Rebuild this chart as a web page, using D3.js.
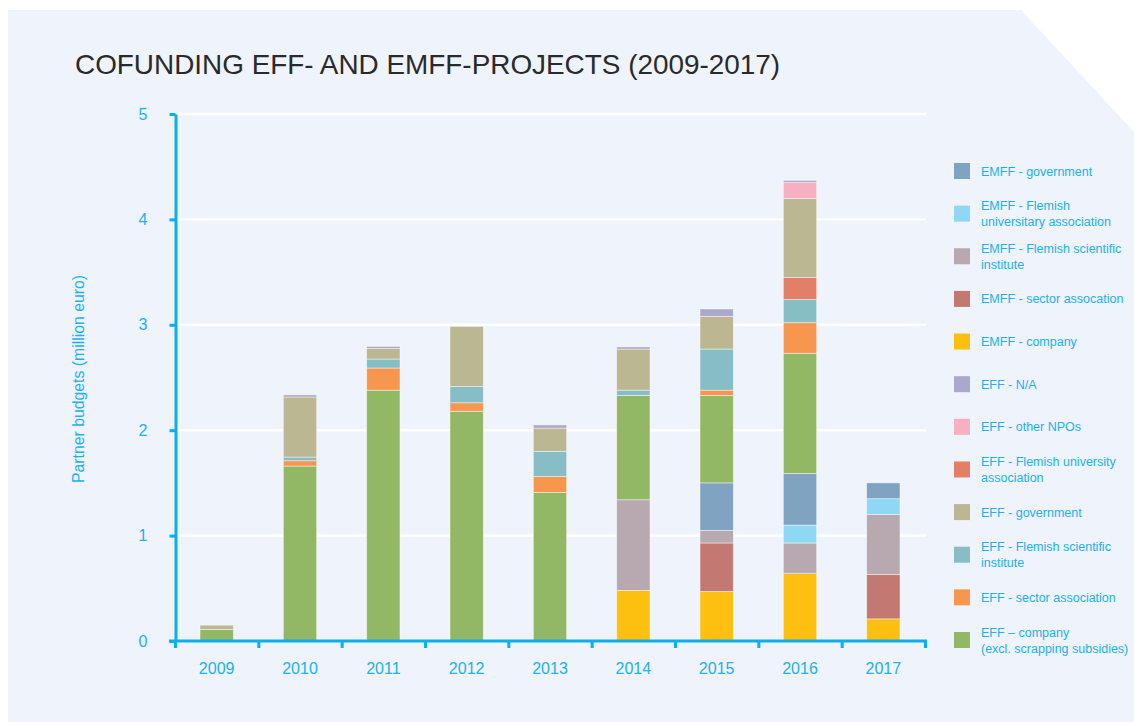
<!DOCTYPE html>
<html>
<head>
<meta charset="utf-8">
<script src="https://cdn.jsdelivr.net/npm/d3@7"></script>
<style>
  body { margin: 0; background: #fff; }
  svg { display: block; font-family: "Liberation Sans", Arial, sans-serif; }
</style>
</head>
<body>
<div id="root"></div>
<script>
// Categories.
const years = ['2009', '2010', '2011', '2012', '2013', '2014', '2015', '2016', '2017'];

// Series values (million euro), stacked bottom to top in this order.
const emffCompany      = [0,    0,     0,     0,     0,     0.48, 0.47, 0.64, 0.21];
const emffSector       = [0,    0,     0,     0,     0,     0,    0.46, 0,    0.42];
const emffScience      = [0,    0,     0,     0,     0,     0.86, 0.12, 0.29, 0.57];
const emffUniversity   = [0,    0,     0,     0,     0,     0,    0,    0.17, 0.15];
const emffGovernment   = [0,    0,     0,     0,     0,     0,    0.45, 0.49, 0.15];
const effCompany       = [0.11, 1.66,  2.38,  2.18,  1.41,  0.99, 0.83, 1.14, 0];
const effSector        = [0,    0.05,  0.21,  0.08,  0.15,  0,    0.05, 0.29, 0];
const effScience       = [0,    0.035, 0.085, 0.155, 0.24,  0.05, 0.39, 0.22, 0];
const effUniversity    = [0,    0,     0,     0,     0,     0,    0,    0.21, 0];
const effGovernment    = [0.04, 0.57,  0.10,  0.57,  0.22,  0.39, 0.31, 0.75, 0];
const effOtherNPO      = [0,    0,     0,     0,     0,     0,    0,    0.15, 0];
const effNA            = [0,    0.02,  0.02,  0,     0.03,  0.02, 0.07, 0.02, 0];

const seriesKeys = ['emffCompany', 'emffSector', 'emffScience', 'emffUniversity', 'emffGovernment',
  'effCompany', 'effSector', 'effScience', 'effUniversity', 'effGovernment', 'effOtherNPO', 'effNA'];
const seriesValues = [emffCompany, emffSector, emffScience, emffUniversity, emffGovernment,
  effCompany, effSector, effScience, effUniversity, effGovernment, effOtherNPO, effNA];
const seriesColors = ['#fdc010', '#c37971', '#b8a8b0', '#8fd8f5', '#7fa3c1',
  '#93b865', '#f7964f', '#87bdc4', '#e37f66', '#bbb793', '#f7afc2', '#aaa9cb'];

// Legend, top to bottom.
const legendKeys = ['emffGovernment', 'emffUniversity', 'emffScience', 'emffSector', 'emffCompany',
  'effNA', 'effOtherNPO', 'effUniversity', 'effGovernment', 'effScience', 'effSector', 'effCompany'];
const legendLabels = [
  ['EMFF - government'],
  ['EMFF - Flemish', 'universitary association'],
  ['EMFF - Flemish scientific', 'institute'],
  ['EMFF - sector assocation'],
  ['EMFF - company'],
  ['EFF - N/A'],
  ['EFF - other NPOs'],
  ['EFF - Flemish university', 'association'],
  ['EFF - government'],
  ['EFF - Flemish scientific', 'institute'],
  ['EFF - sector association'],
  ['EFF \u2013 company', '(excl. scrapping subsidies)']
];

const yTicks = [0, 1, 2, 3, 4, 5];

const width = 1134;
const height = 722;
const blue = '#1cb1ec';
const axisBlue = '#08b0ee';

// Build the table for d3.stack.
const table = years.map((year, i) => {
  const row = { year: year };
  seriesKeys.forEach((key, k) => { row[key] = seriesValues[k][i]; });
  return row;
});
const colorOf = d3.scaleOrdinal().domain(seriesKeys).range(seriesColors);

const svg = d3.select('#root')
  .append('svg')
  .attr('width', width)
  .attr('height', height);

// Panel background with the cut corner.
svg.append('path')
  .attr('d', 'M8,10 L1021,10 L1134,132 L1134,722 L8,722 Z')
  .attr('fill', '#eff3fb');

svg.append('text')
  .attr('x', 75)
  .attr('y', 74)
  .attr('font-size', 27.9)
  .attr('fill', '#2a2a2a')
  .text('COFUNDING EFF- AND EMFF-PROJECTS (2009-2017)');

const xScale = d3.scaleBand()
  .domain(years)
  .range([175, 925])
  .paddingInner(0.6)
  .paddingOuter(0.3);

const yScale = d3.scaleLinear()
  .domain([0, 5])
  .range([641, 114]);

// Gridlines.
svg.append('g')
  .selectAll('line')
  .data(yTicks.filter(d => d > 0))
  .enter()
  .append('line')
  .attr('x1', 176)
  .attr('x2', 926)
  .attr('y1', d => yScale(d))
  .attr('y2', d => yScale(d))
  .attr('stroke', '#fff')
  .attr('stroke-width', 2.5);

// Stacked bars.
const stacked = d3.stack().keys(seriesKeys)(table);

svg.append('g')
  .selectAll('g')
  .data(stacked)
  .enter()
  .append('g')
  .attr('fill', d => colorOf(d.key))
  .selectAll('rect')
  .data(d => d.filter(p => p[1] - p[0] > 0))
  .enter()
  .append('rect')
  .attr('x', d => xScale(d.data.year))
  .attr('width', xScale.bandwidth())
  .attr('y', d => yScale(d[1]))
  .attr('height', d => yScale(d[0]) - yScale(d[1]))
  .attr('stroke', 'rgba(255,255,255,0.55)')
  .attr('stroke-width', 0.8);

// Y axis.
const yAxis = d3.axisLeft(yScale)
  .tickValues(yTicks)
  .tickFormat(d3.format('d'))
  .tickSize(6)
  .tickPadding(22)
  .tickSizeOuter(0);

const yg = svg.append('g')
  .attr('transform', 'translate(175.5, 0)')
  .call(yAxis);
yg.select('.domain').attr('stroke', axisBlue).attr('stroke-width', 3);
yg.selectAll('.tick line').attr('stroke', axisBlue).attr('stroke-width', 3);
yg.selectAll('.tick text').attr('fill', blue).attr('font-size', 16).attr('font-family', null);

// X axis: ticks at the band edges, labels at the band centres.
const edgeScale = d3.scaleLinear().domain([0, years.length]).range([175, 925]);
const xEdges = d3.axisBottom(edgeScale)
  .tickValues(d3.range(years.length + 1))
  .tickFormat('')
  .tickSize(7)
  .tickSizeOuter(0);

const xg = svg.append('g')
  .attr('transform', 'translate(0, 641)')
  .call(xEdges);
xg.select('.domain').attr('stroke', axisBlue).attr('stroke-width', 3)
  .attr('d', 'M169,0H927');
xg.selectAll('.tick line').attr('stroke', axisBlue).attr('stroke-width', 3);

const xLabels = d3.axisBottom(xScale).tickSize(0).tickPadding(22);
const xl = svg.append('g')
  .attr('transform', 'translate(0, 641)')
  .call(xLabels);
xl.select('.domain').remove();
xl.selectAll('.tick text').attr('fill', blue).attr('font-size', 16).attr('font-family', null);

// Y axis title.
svg.append('text')
  .attr('transform', 'translate(84, 379) rotate(-90)')
  .attr('text-anchor', 'middle')
  .attr('font-size', 15.8)
  .attr('fill', blue)
  .text('Partner budgets (million euro)');

// Legend.
const legendY = d3.scalePoint()
  .domain(legendKeys)
  .range([171, 640]);

const legend = svg.append('g')
  .selectAll('g')
  .data(legendKeys)
  .enter()
  .append('g')
  .attr('transform', d => `translate(954, ${legendY(d)})`);

legend.append('rect')
  .attr('x', 0)
  .attr('y', -8)
  .attr('width', 16)
  .attr('height', 16)
  .attr('fill', d => colorOf(d));

legend.append('text')
  .attr('fill', blue)
  .attr('font-size', 12.5)
  .each(function (d, i) {
    const lines = legendLabels[i];
    const top = lines.length === 1 ? 4.5 : -3.5;
    d3.select(this).selectAll('tspan')
      .data(lines)
      .enter()
      .append('tspan')
      .attr('x', 27)
      .attr('y', (l, j) => top + j * 16)
      .text(l => l);
  });
</script>
</body>
</html>
